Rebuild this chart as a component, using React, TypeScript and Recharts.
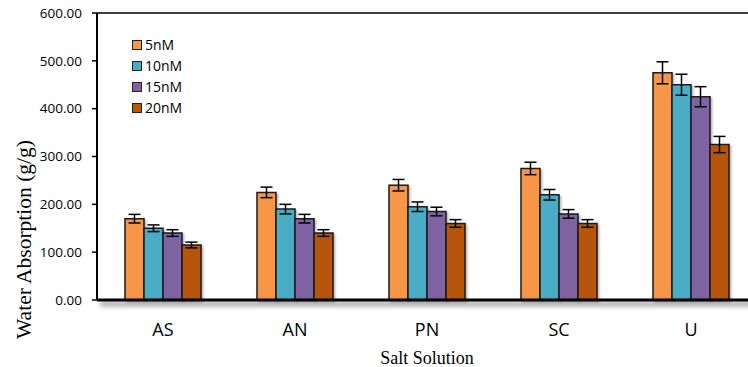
import React from 'react';
import { BarChart, Bar, XAxis, YAxis, ErrorBar, ReferenceLine, Legend } from 'recharts';

const categories = ['AS', 'AN', 'PN', 'SC', 'U'];
const nM5 = [170, 225, 240, 275, 475];
const nM10 = [150, 190, 195, 220, 450];
const nM15 = [140, 170, 185, 180, 425];
const nM20 = [115, 140, 160, 160, 325];
const err5 = [9, 11, 12, 13, 23];
const err10 = [7, 10, 10, 11, 22];
const err15 = [7, 9, 9, 9, 21];
const err20 = [6, 7, 8, 8, 17];
const yTicks = [0, 100, 200, 300, 400, 500, 600];

const seriesNames = ['5nM', '10nM', '15nM', '20nM'];
const colors = ['#F79646', '#4BACC6', '#8064A2', '#B65708'];

const data = categories.map((c, i) => ({
  name: c,
  s5: nM5[i], s10: nM10[i], s15: nM15[i], s20: nM20[i],
  e5: err5[i], e10: err10[i], e15: err15[i], e20: err20[i],
}));

const keys = [['s5', 'e5'], ['s10', 'e10'], ['s15', 'e15'], ['s20', 'e20']];

const SANS = '"Open Sans", "Noto Sans", sans-serif';
const SERIF = '"Liberation Serif", "DejaVu Serif", serif';

const LegendContent = () => (
  <div style={{ fontFamily: SANS, fontSize: 14, color: '#000', textAlign: 'left' }}>
    {seriesNames.map((n, i) => (
      <div key={n} style={{ display: 'flex', alignItems: 'center', height: 21 }}>
        <span style={{ display: 'inline-block', width: 8, height: 8, background: colors[i], border: '1.5px solid #222', marginRight: 3 }} />
        <span>{n}</span>
      </div>
    ))}
  </div>
);

const YTitle = (props: any) => {
  const vb = props.viewBox;
  const x = vb.x + 31;
  const y = vb.y + vb.height / 2 + 83;
  return (
    <text x={x} y={y} transform={`rotate(-90, ${x}, ${y})`} textAnchor="middle" fontFamily={SERIF} fontSize={21.5} fill="#000">
      Water Absorption (g/g)
    </text>
  );
};

const XTitle = (props: any) => {
  const vb = props.viewBox;
  const x = vb.x + vb.width / 2;
  const y = vb.y + 64;
  return (
    <text x={x} y={y} textAnchor="middle" fontFamily={SERIF} fontSize={18} fill="#000">
      Salt Solution
    </text>
  );
};

export default function App() {
  return (
    <div style={{ position: 'fixed', left: 0, top: 0, width: 748, height: 367, overflow: 'hidden', background: '#fff' }}>
      <BarChart
        width={760}
        height={367}
        data={data}
        margin={{ top: 13, right: 3, bottom: 0, left: 0 }}
        barCategoryGap={28}
        barGap={0}
      >
        <defs>
          <filter id="barsh" x="-20%" y="-20%" width="150%" height="140%">
            <feDropShadow dx="1.5" dy="1.5" stdDeviation="1" floodColor="#000" floodOpacity="0.3" />
          </filter>
          <filter id="axsh" filterUnits="userSpaceOnUse" x="0" y="280" width="800" height="40">
            <feDropShadow dx="3" dy="4" stdDeviation="2.5" floodColor="#000" floodOpacity="0.55" />
          </filter>
        </defs>
        <YAxis
          width={97}
          domain={[0, 600]}
          ticks={yTicks}
          tickFormatter={(v: number) => v.toFixed(2)}
          tick={{ fontFamily: SANS, fontSize: 13.5, fill: '#000' }}
          tickSize={5}
          tickMargin={10}
          tickLine={{ stroke: '#000', strokeWidth: 1.5 }}
          axisLine={{ stroke: '#000', strokeWidth: 2 }}
          label={<YTitle />}
        />
        <XAxis
          dataKey="name"
          height={67}
          tickLine={false}
          tickSize={0}
          tickMargin={23}
          tick={{ fontFamily: SANS, fontSize: 18, fill: '#000' }}
          axisLine={{ stroke: '#000', strokeWidth: 3, filter: 'url(#axsh)' }}
          label={<XTitle />}
        />
        <ReferenceLine y={600} stroke="#000" strokeWidth={1.5} />
        <Legend
          layout="vertical"
          verticalAlign="middle"
          align="center"
          content={<LegendContent />}
          wrapperStyle={{ left: 132, top: 34, width: 80, height: 84 }}
        />
        {keys.map(([k, e], i) => (
          <Bar
            key={k}
            dataKey={k}
            name={seriesNames[i]}
            fill={colors[i]}
            stroke="#1a1a1a"
            strokeWidth={1.5}
            isAnimationActive={false}
            style={{ filter: 'url(#barsh)' }}
          >
            <ErrorBar dataKey={e} width={6} stroke="#000" strokeWidth={1.5} direction="y" />
          </Bar>
        ))}
      </BarChart>
    </div>
  );
}
